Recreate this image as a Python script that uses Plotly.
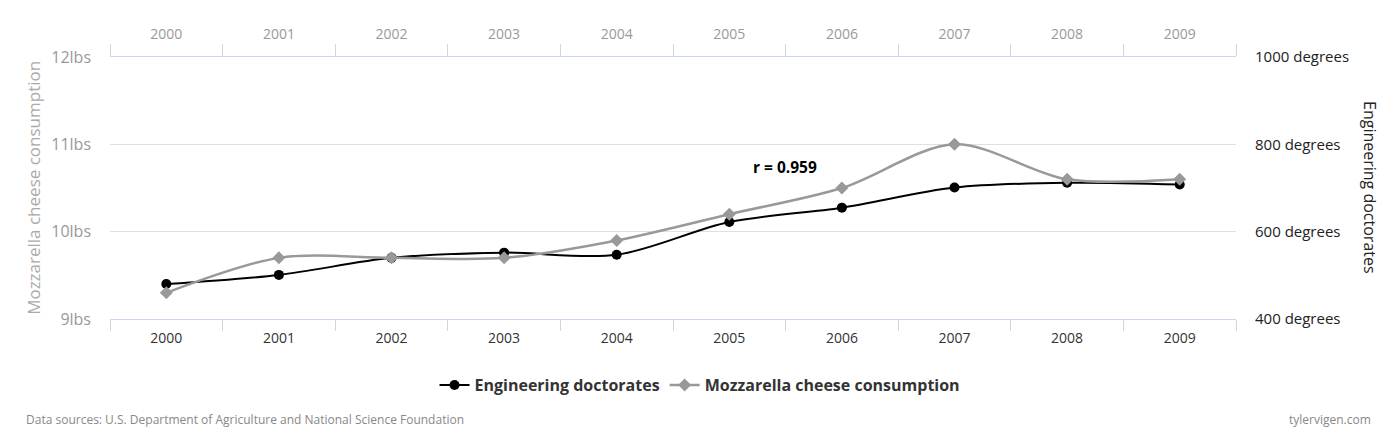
import plotly.graph_objects as go

years = ["2000", "2001", "2002", "2003", "2004", "2005", "2006", "2007", "2008", "2009"]
engineering = [480, 501, 540, 552, 547, 622, 655, 701, 712, 708]
mozzarella = [9.3, 9.7, 9.7, 9.7, 9.9, 10.2, 10.5, 11.0, 10.6, 10.6]
left_ticks = [9, 10, 11, 12]
left_labels = ["9lbs", "10lbs", "11lbs", "12lbs"]
right_ticks = [400, 600, 800, 1000]
right_labels = ["400 degrees", "600 degrees", "800 degrees", "1000 degrees"]

FONT = "Open Sans"
AXIS_BLUE = "#ccd6eb"
GRID = "#e0e0e0"

fig = go.Figure()
fig.add_trace(go.Scatter(
    x=years, y=engineering, name="Engineering doctorates",
    mode="lines+markers", line=dict(color="#000000", width=2, shape="spline", smoothing=0.9),
    marker=dict(symbol="circle", size=10, color="#000000"),
    xaxis="x", yaxis="y"))
fig.add_trace(go.Scatter(
    x=years, y=mozzarella, name="Mozzarella cheese consumption",
    mode="lines+markers", line=dict(color="#999999", width=2.5, shape="spline", smoothing=0.9),
    marker=dict(symbol="diamond", size=10, color="#999999"),
    xaxis="x", yaxis="y2"))
# invisible trace to activate the top category axis
fig.add_trace(go.Scatter(
    x=years, y=engineering, mode="markers", marker=dict(opacity=0),
    showlegend=False, hoverinfo="skip", xaxis="x2", yaxis="y"))

fig.update_layout(
    width=1394, height=438,
    margin=dict(l=102, r=166, t=49, b=127),
    paper_bgcolor="white", plot_bgcolor="white",
    font=dict(family=FONT, color="#333333"),
    showlegend=True,
    legend=dict(orientation="h", x=0.524, xanchor="center", y=-0.252, yanchor="middle",
                font=dict(size=16, color="#333333", family=FONT, weight="bold"),
                itemwidth=30, tracegroupgap=0),
    xaxis=dict(type="category", range=[-0.5, 9.5], tickson="boundaries",
               ticks="outside", ticklen=11, tickcolor=AXIS_BLUE, tickwidth=1,
               showline=True, linecolor=AXIS_BLUE, linewidth=1,
               showgrid=False, zeroline=False, ticklabelstandoff=6,
               tickfont=dict(size=14, color="#333333", family=FONT)),
    xaxis2=dict(type="category", overlaying="x", side="top", range=[-0.5, 9.5],
                tickson="boundaries", ticks="outside", ticklen=12, tickcolor=AXIS_BLUE,
                showline=True, linecolor=AXIS_BLUE, linewidth=1,
                showgrid=False, zeroline=False, ticklabelstandoff=11,
                tickfont=dict(size=14, color="#999999", family=FONT)),
    yaxis=dict(side="right", range=[400, 1000], tickvals=right_ticks, ticktext=right_labels,
               showgrid=True, gridcolor=GRID, zeroline=False, showline=False,
               ticks="", ticklabelstandoff=18,
               tickfont=dict(size=15, color="#222222", family=FONT)),
    yaxis2=dict(side="left", overlaying="y", range=[9, 12], tickvals=left_ticks,
                ticktext=left_labels, showgrid=False, zeroline=False, showline=False,
                ticks="", ticklabelstandoff=18,
                tickfont=dict(size=16, color="#999999", family=FONT)),
    annotations=[
        dict(text="r = 0.959", xref="paper", yref="paper", x=0.5995, y=0.58,
             showarrow=False, font=dict(size=15.5, color="#000000", family=FONT, weight="bold")),
        dict(text="Mozzarella cheese consumption", xref="paper", yref="paper",
             x=-0.0685, y=0.5, textangle=-90, showarrow=False, xanchor="center", yanchor="middle",
             font=dict(size=17, color="#aaaaaa", family=FONT)),
        dict(text="Engineering doctorates", xref="paper", yref="paper",
             x=1.119, y=0.5, textangle=90, showarrow=False, xanchor="center", yanchor="middle",
             font=dict(size=16, color="#222222", family=FONT)),
        dict(text="Data sources: U.S. Department of Agriculture and National Science Foundation",
             xref="paper", yref="paper", x=-0.0764, y=-0.382, xanchor="left", yanchor="middle",
             showarrow=False, font=dict(size=12, color="#888888", family=FONT)),
        dict(text="tylervigen.com", xref="paper", yref="paper", x=1.1217, y=-0.382,
             xanchor="right", yanchor="middle", showarrow=False,
             font=dict(size=12, color="#888888", family=FONT)),
    ],
)

fig.write_html("out.html")
